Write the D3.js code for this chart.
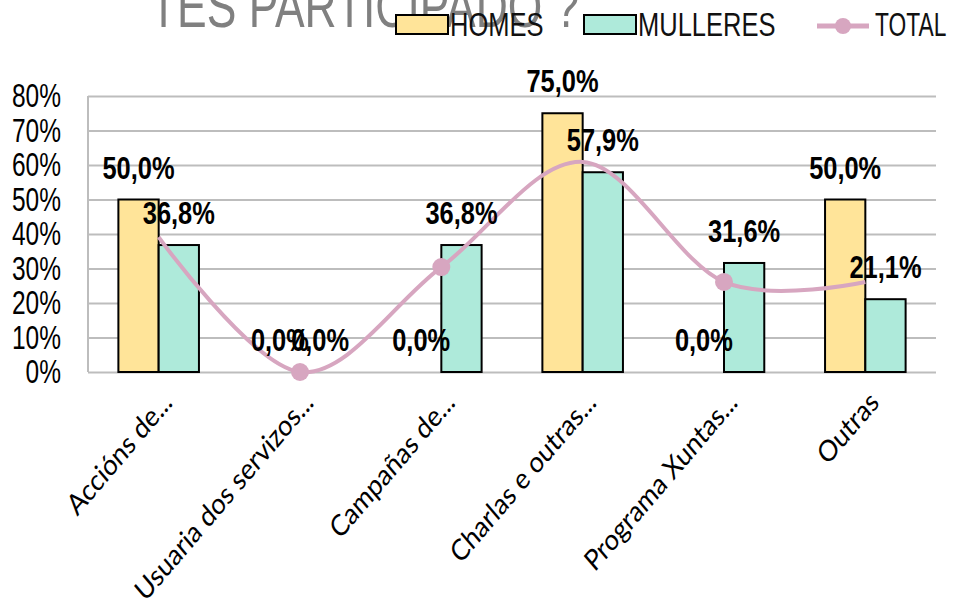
<!DOCTYPE html>
<html>
<head>
<meta charset="utf-8">
<script src="https://cdn.jsdelivr.net/npm/d3@7"></script>
<style>
  body { margin: 0; background: #fff; }
  .narrow { font-family: 'Liberation Sans', Arial, sans-serif; }
</style>
</head>
<body>
<svg id="chart" width="957" height="609"></svg>
<script>
const categories = ["Accións de...", "Usuaria dos servizos...", "Campañas de...",
  "Charlas e outras...", "Programa Xuntas...", "Outras"];
const homes = [50.0, 0.0, 0.0, 75.0, 0.0, 50.0];
const mulleres = [36.8, 0.0, 36.8, 57.9, 31.6, 21.1];
const total = [39.1, 0.0, 30.4, 60.9, 26.1, 26.1];
const totalMarkers = [1, 2, 4]; // points where the TOTAL marker is visible
const seriesNames = ["HOMES", "MULLERES", "TOTAL"];
const yTicks = [0, 10, 20, 30, 40, 50, 60, 70, 80];
const titleText = "TES PARTICIPADO ?";

const colors = { HOMES: "#ffe499", MULLERES: "#aeeada", TOTAL: "#d7a6c0" };
const fmt = v => v.toFixed(1).replace(".", ",") + "%";

// condensed look: squeeze a normal sans horizontally
function squish(sel, f) {
  sel.each(function () {
    const w = this.getComputedTextLength();
    d3.select(this).attr("textLength", w * f).attr("lengthAdjust", "spacingAndGlyphs");
  });
}

const svg = d3.select("#chart");

const x0 = d3.scaleBand()
  .domain(categories)
  .range([88, 936])
  .paddingInner(0.43)
  .paddingOuter(0.215);
const x1 = d3.scaleBand()
  .domain(["HOMES", "MULLERES"])
  .range([0, x0.bandwidth()]);
const y = d3.scaleLinear()
  .domain([0, 80])
  .range([372, 96]);
const cx = c => x0(c) + x0.bandwidth() / 2;

// title (cut off at the top in the original)
svg.append("text")
  .attr("class", "narrow")
  .attr("x", 150)
  .attr("y", 27)
  .attr("font-size", 60)
  .attr("fill", "#808080")
  .text(titleText)
  .call(squish, 0.74);

// grid + y axis
const yAxis = svg.append("g")
  .attr("transform", "translate(88,0)")
  .call(d3.axisLeft(y)
    .tickValues(yTicks)
    .tickSizeInner(-848)
    .tickSizeOuter(0)
    .tickPadding(27)
    .tickFormat(d => d + "%"));
yAxis.select(".domain").remove();
yAxis.selectAll(".tick line").attr("stroke", "#bdbdbd").attr("stroke-width", 2);
yAxis.selectAll(".tick text")
  .attr("class", "narrow")
  .attr("font-size", 34)
  .attr("fill", "#000")
  .call(squish, 0.72);
svg.append("line")
  .attr("x1", 88).attr("x2", 88)
  .attr("y1", y(80)).attr("y2", y(0))
  .attr("stroke", "#bdbdbd").attr("stroke-width", 2);

// bars
const barData = [];
categories.forEach((c, i) => {
  barData.push({ cat: c, key: "HOMES", value: homes[i] });
  barData.push({ cat: c, key: "MULLERES", value: mulleres[i] });
});

svg.append("g")
  .selectAll("rect")
  .data(barData.filter(d => d.value > 0))
  .join("rect")
    .attr("x", d => x0(d.cat) + x1(d.key))
    .attr("y", d => y(d.value))
    .attr("width", x1.bandwidth())
    .attr("height", d => y(0) - y(d.value))
    .attr("fill", d => colors[d.key])
    .attr("stroke", "#000")
    .attr("stroke-width", 2);

// total line
const line = d3.line()
  .x((d, i) => cx(categories[i]))
  .y(d => y(d))
  .curve(d3.curveCardinal.tension(0));

svg.append("path")
  .datum(total)
  .attr("d", line)
  .attr("fill", "none")
  .attr("stroke", colors.TOTAL)
  .attr("stroke-width", 4);

svg.append("g")
  .selectAll("circle")
  .data(totalMarkers)
  .join("circle")
    .attr("cx", i => cx(categories[i]))
    .attr("cy", i => y(total[i]))
    .attr("r", 9)
    .attr("fill", colors.TOTAL);

// data labels
svg.append("g")
  .selectAll("text")
  .data(barData)
  .join("text")
    .attr("class", "narrow")
    .attr("x", d => x0(d.cat) + x1(d.key) + x1.bandwidth() / 2)
    .attr("y", d => y(d.value) - 21)
    .attr("text-anchor", "middle")
    .attr("font-size", 31)
    .attr("font-weight", "bold")
    .attr("fill", "#000")
    .text(d => fmt(d.value))
    .call(squish, 0.82);

// x labels (the source image is stretched a bit vertically, so 45deg looks steeper)
svg.append("g")
  .selectAll("text")
  .data(categories)
  .join("text")
    .attr("transform", c => `translate(${cx(c) + 15},404) scale(1,1.17) rotate(-45)`)
    .attr("text-anchor", "end")
    .attr("font-family", "Lato, 'Open Sans', sans-serif")
    .attr("font-size", 25)
    .attr("fill", "#000")
    .text(c => c);

// legend
const legend = svg.append("g");
const legendX = [396, 584, 817];
seriesNames.forEach((name, i) => {
  const g = legend.append("g").attr("transform", `translate(${legendX[i]},0)`);
  if (name === "TOTAL") {
    g.append("line")
      .attr("x1", 0).attr("x2", 52)
      .attr("y1", 26).attr("y2", 26)
      .attr("stroke", colors.TOTAL).attr("stroke-width", 5);
    g.append("circle")
      .attr("cx", 26).attr("cy", 26).attr("r", 8)
      .attr("fill", colors.TOTAL);
  } else {
    g.append("rect")
      .attr("x", 0).attr("y", 15)
      .attr("width", 52).attr("height", 19)
      .attr("fill", colors[name])
      .attr("stroke", "#000").attr("stroke-width", 2);
  }
  g.append("text")
    .attr("class", "narrow")
    .attr("x", name === "TOTAL" ? 58 : 54)
    .attr("y", 36)
    .attr("font-size", 34)
    .attr("fill", "#111")
    .text(name)
    .call(squish, name === "TOTAL" ? 0.67 : 0.75);
});
</script>
</body>
</html>
